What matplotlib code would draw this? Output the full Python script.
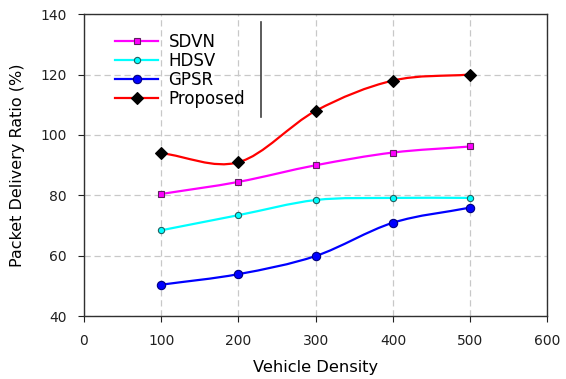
import numpy as np
import matplotlib
matplotlib.use("Agg")
import matplotlib.pyplot as plt
from matplotlib.path import Path
from matplotlib.patches import PathPatch
from matplotlib.lines import Line2D

plt.rcParams['font.family'] = ['DejaVu Sans']

# datos
density = [100, 200, 300, 400, 500]
sdvn = [80.5, 84.5, 90.0, 94.2, 96.2]
hdsv = [68.5, 73.5, 78.5, 79.2, 79.2]
gpsr = [50.5, 54.0, 60.0, 71.0, 76.0]
proposed = [94.0, 91.0, 108.0, 118.0, 120.0]

series = [
    ("SDVN", sdvn, "#ff00ff", "s", "#ff00ff", "#602060", 5),
    ("HDSV", hdsv, "#00ffff", "o", "#00ffff", "#206060", 4.5),
    ("GPSR", gpsr, "#0000ff", "o", "#0000ff", "#000080", 6),
    ("Proposed", proposed, "#ff0000", "D", "#000000", "#000000", 6.5),
]


def smooth_path(x, y):
    # curva tipo Catmull-Rom convertida a Bezier cúbicas
    x = np.asarray(x, float)
    y = np.asarray(y, float)
    n = len(x)
    mx = np.zeros(n)
    my = np.zeros(n)
    for i in range(n):
        a = max(i - 1, 0)
        b = min(i + 1, n - 1)
        mx[i] = (x[b] - x[a]) / (b - a)
        my[i] = (y[b] - y[a]) / (b - a)
    verts = [(x[0], y[0])]
    codes = [Path.MOVETO]
    for i in range(n - 1):
        verts += [(x[i] + mx[i] / 3, y[i] + my[i] / 3),
                  (x[i + 1] - mx[i + 1] / 3, y[i + 1] - my[i + 1] / 3),
                  (x[i + 1], y[i + 1])]
        codes += [Path.CURVE4] * 3
    return Path(verts, codes)


fig = plt.figure(figsize=(5.66, 3.79), dpi=100)
ax = fig.add_axes([0.1484, 0.165, 0.8189, 0.798])

handles = []
for name, vals, col, mk, fc, ec, ms in series:
    ax.add_patch(PathPatch(smooth_path(density, vals), facecolor='none',
                           edgecolor=col, lw=1.6, zorder=3))
    ax.plot(density, vals, linestyle='none', marker=mk, markersize=ms,
            markerfacecolor=fc, markeredgecolor=ec, markeredgewidth=0.8, zorder=4)
    handles.append(Line2D([], [], color=col, lw=1.6, marker=mk, markersize=ms,
                          markerfacecolor=fc, markeredgecolor=ec, markeredgewidth=0.8))

ax.set_xlim(0, 600)
ax.set_ylim(40, 140)
ax.set_xticks(np.arange(0, 601, 100))
ax.set_yticks(np.arange(40, 141, 20))
ax.tick_params(direction='out', length=4, pad=8.5, labelsize=10, colors='#202020',
               top=False, right=False)
ax.grid(True, color='#c8c8c8', linestyle=(0, (5, 3)), linewidth=0.9)
for s in ax.spines.values():
    s.set_color('#303030')
    s.set_linewidth(1.0)

ax.set_xlabel('Vehicle Density', fontsize=11.7, labelpad=9)
ax.set_ylabel('Packet Delivery Ratio (%)', fontsize=11.5, labelpad=11)

leg = ax.legend(handles, [s[0] for s in series], loc='upper left',
                bbox_to_anchor=(0.067, 0.937), frameon=False, fontsize=12,
                handlelength=2.6, handletextpad=0.6, labelspacing=0.05,
                borderpad=0, borderaxespad=0)
ax.plot([0.382, 0.382], [0.66, 0.974], transform=ax.transAxes,
        color='#404040', lw=1.2, clip_on=False)

fig.savefig('out.png', dpi=100)
